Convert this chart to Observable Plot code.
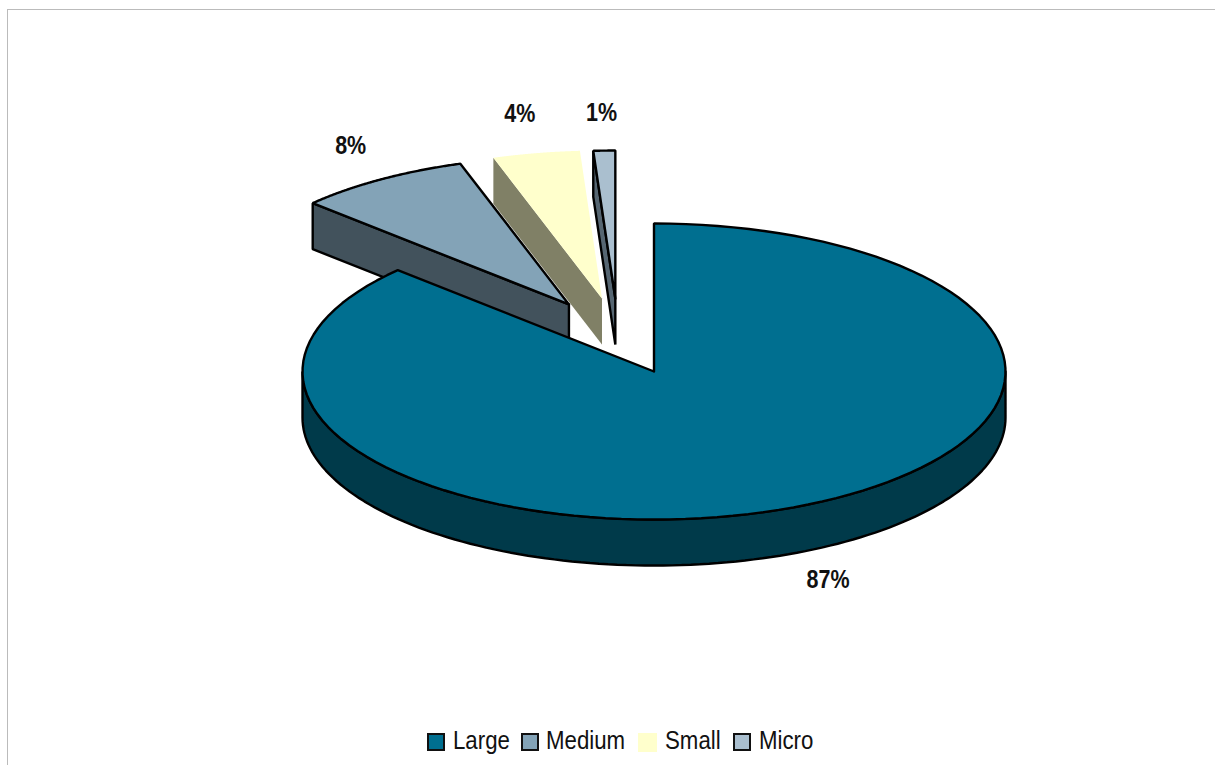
<!DOCTYPE html>
<html>
<head>
<meta charset="utf-8">
<script src="https://cdn.jsdelivr.net/npm/d3@7"></script>
<script src="https://cdn.jsdelivr.net/npm/@observablehq/plot@0.6"></script>
<style>
  html, body { margin: 0; padding: 0; background: #fff; overflow: hidden; }
  #page { position: relative; width: 1215px; height: 765px; font-family: "Liberation Sans", Arial, sans-serif; }
  #frame { position: absolute; left: 7px; top: 9px; right: 0; bottom: 0; border-left: 1px solid #bbb; border-top: 1px solid #bbb; }
  #chart { position: absolute; left: 0; top: 0; }
  #chart svg { display: block; }
  #legend { position: absolute; left: 0; right: 0; top: 722px; height: 43px; }
  .key { position: absolute; box-sizing: border-box; }
  .name { position: absolute; font-size: 25px; line-height: 30px; top: 3px; color: #111; transform: scaleX(0.89); transform-origin: left center; }
</style>
</head>
<body>
<div id="page">
  <div id="frame"></div>
  <div id="chart"></div>
  <div id="legend"></div>
</div>
<script>
// Company size shares, in percent
const categories = ["Large", "Medium", "Small", "Micro"];
const shares = [87, 8, 4, 1];

const topColors = ["#006f90", "#83a3b7", "#ffffcc", "#aabfcf"];
const sideColors = ["#003a4a", "#42525c", "#808066", "#566672"];
const outlines = ["#000", "#000", "none", "#000"];

// Displacement of each pulled-out wedge and the label anchor, in pie radii
const pullX = [0, -0.242, -0.148, -0.11];
const pullY = [0, 0.453, 0.493, 0.493];
const labelX = [0.495, -0.863, -0.382, -0.149];
const labelY = [-1.412, 1.527, 1.737, 1.75];
const thickness = 0.311;

const total = d3.sum(shares);
const ends = d3.cumsum(shares).map((v) => (v / total) * 2 * Math.PI);
const starts = ends.map((_, i) => (i ? ends[i - 1] : 0));

const rim = (a, i, drop = 0) => ({x: pullX[i] + Math.sin(a), y: pullY[i] + Math.cos(a) - drop});
const apex = (i, drop = 0) => ({x: pullX[i], y: pullY[i] - drop});
const sweep = (a0, a1, i, drop = 0) =>
  d3.range(0, 121).map((k) => rim(a0 + ((a1 - a0) * k) / 120, i, drop));

const topFace = (i) => [apex(i), ...sweep(starts[i], ends[i], i), apex(i)];
// The cut edge facing the viewer of a pulled-out wedge
const cutFace = (i) => [apex(i), rim(starts[i], i), rim(starts[i], i, thickness), apex(i, thickness), apex(i)];
// The front of the main wedge, from its right edge round to its left edge
const wallFace = (i) => {
  const upper = sweep(Math.PI / 2, 1.5 * Math.PI, i);
  const lower = sweep(1.5 * Math.PI, Math.PI / 2, i, thickness);
  return [...upper, ...lower, upper[0]];
};

const face = (points, fill, stroke) =>
  Plot.line(points, {x: "x", y: "y", fill, stroke, strokeWidth: 2.4, strokeLinejoin: "miter", curve: "linear"});

const drawOrder = [2, 3, 1];
const marks = [];
for (const i of drawOrder) {
  marks.push(face(cutFace(i), sideColors[i], outlines[i]));
  marks.push(face(topFace(i), topColors[i], outlines[i]));
}
marks.push(face(wallFace(0), sideColors[0], outlines[0]));
marks.push(face(topFace(0), topColors[0], outlines[0]));
marks.push(
  Plot.text(shares, {
    x: (_, i) => labelX[i],
    y: (_, i) => labelY[i],
    text: (d) => `${d}%`,
    fontSize: 25,
    fontWeight: "bold",
    fill: "#111",
    // Condensed lettering: squeeze each label around its own anchor
    render(index, scales, values, dimensions, context, next) {
      const g = next(index, scales, values, dimensions, context);
      g.querySelectorAll("text").forEach((t) => {
        t.setAttribute("transform", `${t.getAttribute("transform") || ""} scale(0.86,1)`);
      });
      return g;
    }
  })
);

const chart = Plot.plot({
  width: 1215,
  height: 722,
  margin: 0,
  x: {type: "linear", domain: [-1, 1], range: [302, 1005], axis: null},
  y: {type: "linear", domain: [1, -1], range: [223, 519], axis: null},
  style: {background: "transparent", fontFamily: "'Liberation Sans', Arial, sans-serif"},
  marks
});
document.getElementById("chart").append(chart);

// Legend row below the plot
const keyLeft = [427, 521, 638, 733];
const keySize = [18, 18, 19, 18];
const nameLeft = [453, 546, 665, 759];
const legend = document.getElementById("legend");
categories.forEach((name, i) => {
  const key = document.createElement("div");
  key.className = "key";
  key.style.cssText = `left:${keyLeft[i]}px;top:11px;width:${keySize[i]}px;height:${keySize[i]}px;background:${topColors[i]};` +
    (outlines[i] === "none" ? "" : "border:2px solid #111;");
  const label = document.createElement("div");
  label.className = "name";
  label.style.left = `${nameLeft[i]}px`;
  label.textContent = name;
  legend.append(key, label);
});
</script>
</body>
</html>
